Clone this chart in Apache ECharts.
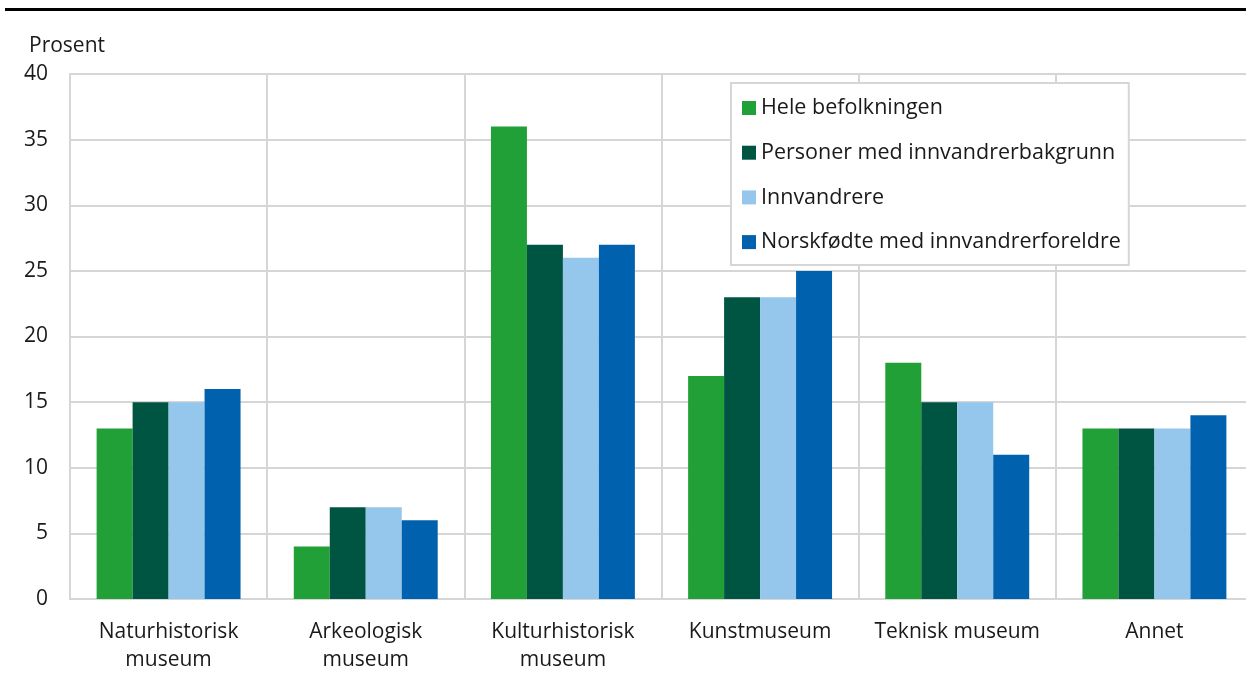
<!DOCTYPE html>
<html>
<head>
<meta charset="utf-8">
<script src="https://cdn.jsdelivr.net/npm/echarts@6/dist/echarts.min.js"></script>
<style>
  html, body { margin: 0; padding: 0; background: #fff; }
  #main { width: 1246px; height: 675px; }
</style>
</head>
<body>
<div id="main"></div>
<script>
    // kategorier og verdier (prosent)
    var categories = ['Naturhistorisk\nmuseum', 'Arkeologisk\nmuseum', 'Kulturhistorisk\nmuseum', 'Kunstmuseum', 'Teknisk museum', 'Annet'];
    var seriesNames = ['Hele befolkningen', 'Personer med innvandrerbakgrunn', 'Innvandrere', 'Norskfødte med innvandrerforeldre'];
    var heleBefolkningen = [13, 4, 36, 17, 18, 13];
    var medBakgrunn = [15, 7, 27, 23, 15, 13];
    var innvandrere = [15, 7, 26, 23, 15, 13];
    var norskfodte = [16, 6, 27, 25, 11, 14];
    var yTicks = [0, 5, 10, 15, 20, 25, 30, 35, 40];

    var colors = ['#21a037', '#005442', '#95c6ec', '#0062ae'];
    var values = [heleBefolkningen, medBakgrunn, innvandrere, norskfodte];
    var font = '"Open Sans", sans-serif';
    var fs = 21;

    var chart = echarts.init(document.getElementById('main'));

    var series = [];
    for (var i = 0; i < seriesNames.length; i++) {
        series.push({
            name: seriesNames[i],
            type: 'bar',
            data: values[i],
            barGap: '0%',
            barCategoryGap: '27%',
            itemStyle: { color: colors[i] }
        });
    }

    var option = {
        animation: false,
        textStyle: { fontFamily: font },
        graphic: [
            {
                type: 'rect',
                shape: { x: 5, y: 8, width: 1246, height: 3 },
                style: { fill: '#000' }
            },
            {
                type: 'text',
                left: 29, top: 36,
                style: { text: 'Prosent', fontSize: 21, fontFamily: font, fill: '#1a1a1a' }
            }
        ],
        legend: {
            orient: 'vertical',
            left: 731,
            top: 83,
            backgroundColor: '#fff',
            borderColor: '#d6d6d6',
            borderWidth: 2,
            padding: [14, 8, 12, 11],
            itemWidth: 14,
            itemHeight: 14,
            itemGap: 22.7,
            icon: 'rect',
            textStyle: { fontSize: 21.5, color: '#1a1a1a', fontFamily: font },
            data: seriesNames
        },
        grid: {
            left: 70,
            width: 1183,
            top: 74,
            bottom: 76,
            outerBoundsMode: 'none',
            containLabel: false
        },
        xAxis: {
            type: 'category',
            data: categories,
            axisLine: { lineStyle: { color: '#d6d6d6', width: 2 } },
            axisTick: { show: false },
            splitLine: { show: true, lineStyle: { color: '#d6d6d6', width: 2 } },
            axisLabel: {
                fontSize: fs,
                color: '#1a1a1a',
                lineHeight: 28,
                margin: 19,
                interval: 0
            }
        },
        yAxis: {
            type: 'value',
            min: yTicks[0],
            max: yTicks[yTicks.length - 1],
            interval: 5,
            axisLine: { show: true, lineStyle: { color: '#d6d6d6', width: 2 } },
            axisTick: { show: false },
            splitLine: { lineStyle: { color: '#d6d6d6', width: 2 } },
            axisLabel: { fontSize: fs, color: '#1a1a1a', margin: 22 }
        },
        series: series
    };
    chart.setOption(option);
</script>
</body>
</html>
